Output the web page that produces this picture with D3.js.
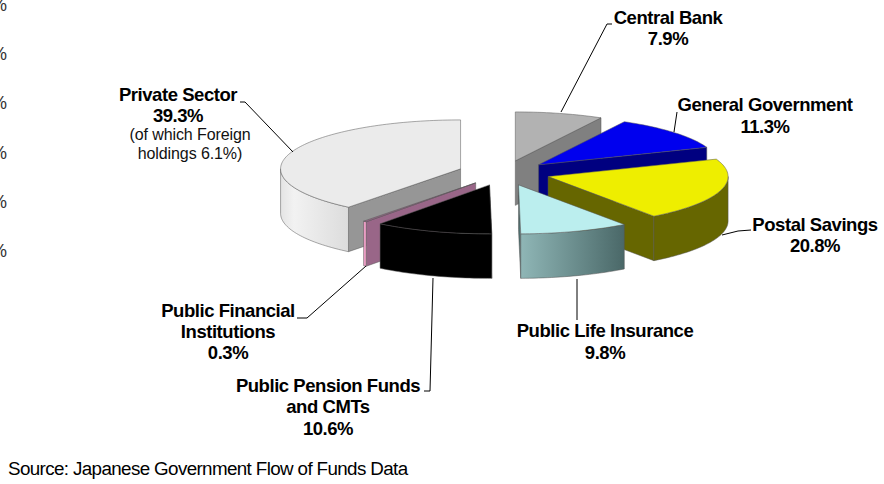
<!DOCTYPE html>
<html>
<head>
<meta charset="utf-8">
<script src="https://cdn.jsdelivr.net/npm/d3@7"></script>
<style>
	body { margin: 0; background: #fff; }
	text { font-family: "Liberation Sans", Arial, sans-serif; fill: #000; }
	.lab { font-weight: bold; font-size: 18.5px; letter-spacing: -0.45px; text-anchor: middle; }
	.sub { font-size: 16px; letter-spacing: -0.1px; text-anchor: middle; fill: #111; }
</style>
</head>
<body>
<div id="figure-div"></div>
<script>
// pie data, clockwise from 12 o'clock
var names = ["Central Bank", "General Government", "Postal Savings", "Public Life Insurance",
	"Public Pension Funds and CMTs", "Public Financial Institutions", "Private Sector"];
var shares = [7.9, 11.3, 20.8, 9.8, 10.6, 0.3, 39.3];
var topColors = ["#b2b2b2", "#0000ee", "#eeee00", "#bbeeee", "#000000", "#996688", "#ebebeb"];
var wallColors = ["#808080", "#000080", "#666600", "#4f7070", "#000000", "#996688", "#969696"];
var clippedTicks = ["%", "%", "%", "%", "%", "%"];

var w = 884;
var h = 484;
var cx = 504;
var cy = 173;
var R = 180;
var tilt = 0.272;   // ellipse ratio
var depth = 44.5;
var explode = 46;

var svg = d3.select("#figure-div").append("svg")
	.attr("width", w)
	.attr("height", h)
	.style("display", "block");

var defs = svg.append("defs");
function hGrad(id, stops) {
	var g = defs.append("linearGradient").attr("id", id);
	stops.forEach(function(s) {
		g.append("stop").attr("offset", s[0]).attr("stop-color", s[1]);
	});
}
hGrad("privGrad", [[0, "#e4e4e4"], [0.2, "#f2f2f2"], [1, "#dcdcdc"]]);
hGrad("lifeGrad", [[0, "#8fb6b6"], [1, "#4a6868"]]);

var slices = d3.pie().sort(null).value(function(d) { return d; })(shares);

function mid(s) { return (s.startAngle + s.endAngle) / 2; }
function apex(s) {
	return [cx + explode * Math.sin(mid(s)), cy - explode * tilt * Math.cos(mid(s))];
}
function rim(s, a, dz) {
	var c = apex(s);
	return [c[0] + R * Math.sin(a), c[1] - R * tilt * Math.cos(a) + (dz || 0)];
}
function arcPts(s, a0, a1, dz) {
	var n = Math.max(2, Math.ceil((a1 - a0) * 40));
	return d3.range(n + 1).map(function(i) { return rim(s, a0 + (a1 - a0) * i / n, dz); });
}
var line = d3.line();

function topFace(s) {
	return line([apex(s)].concat(arcPts(s, s.startAngle, s.endAngle))) + "Z";
}
function wall(s, a) {
	var c = apex(s), e = rim(s, a);
	return line([c, e, [e[0], e[1] + depth], [c[0], c[1] + depth]]) + "Z";
}
function outer(s) {
	var a0 = Math.max(s.startAngle, Math.PI / 2), a1 = Math.min(s.endAngle, 1.5 * Math.PI);
	if (a1 <= a0) return null;
	return line(arcPts(s, a0, a1).concat(arcPts(s, a0, a1, depth).reverse())) + "Z";
}

// which radial wall faces the viewer, and the fill of the curved rim
var wallAt = [
	function(s) { return s.endAngle; }, function(s) { return s.endAngle; },
	function(s) { return s.endAngle; }, function(s) { return s.endAngle; },
	function(s) { return s.startAngle; }, function(s) { return s.startAngle; },
	function(s) { return s.startAngle; }];
var rimFill = [null, null, "#666600", "url(#lifeGrad)", "#000000", "#f0a0c8", "url(#privGrad)"];

// back to front
var order = [6, 0, 1, 5, 2, 4, 3];
var stroke = "#555";
order.forEach(function(i) {
	var s = slices[i];
	var g = svg.append("g").attr("class", "slice");
	g.append("path").attr("d", wall(s, wallAt[i](s)))
		.attr("fill", wallColors[i]).attr("stroke", stroke).attr("stroke-width", 0.5);
	var o = outer(s);
	if (o) g.append("path").attr("d", o)
		.attr("fill", rimFill[i]).attr("stroke", stroke).attr("stroke-width", 0.5);
	g.append("path").attr("d", topFace(s))
		.attr("fill", topColors[i]).attr("stroke", stroke).attr("stroke-width", 0.5);
});

// leader lines
var leaders = [
	[[561, 112], [607, 24], [612, 24]],
	[[674, 132], [677, 112]],
	[[722, 235], [738, 231], [751, 230]],
	[[577, 279], [577, 320]],
	[[433, 278], [430, 391], [424, 391]],
	[[366, 266], [307, 318], [297, 318]],
	[[293, 152], [245, 102], [240, 102]]
];
svg.selectAll("path.leader").data(leaders).enter().append("path")
	.attr("class", "leader")
	.attr("d", function(d) { return line(d); })
	.attr("fill", "none")
	.attr("stroke", "#000")
	.attr("stroke-width", 1);

// labels
var labelLines = [
	{ x: 668, y: 24, cls: "lab", t: "Central Bank" },
	{ x: 668, y: 45, cls: "lab", t: "7.9%" },
	{ x: 765, y: 111, cls: "lab", t: "General Government" },
	{ x: 765, y: 133, cls: "lab", t: "11.3%" },
	{ x: 815, y: 231, cls: "lab", t: "Postal Savings" },
	{ x: 815, y: 252, cls: "lab", t: "20.8%" },
	{ x: 605, y: 337, cls: "lab", t: "Public Life Insurance" },
	{ x: 605, y: 359, cls: "lab", t: "9.8%" },
	{ x: 328, y: 392, cls: "lab", t: "Public Pension Funds" },
	{ x: 328, y: 413, cls: "lab", t: "and CMTs" },
	{ x: 328, y: 435, cls: "lab", t: "10.6%" },
	{ x: 228, y: 317, cls: "lab", t: "Public Financial" },
	{ x: 228, y: 338, cls: "lab", t: "Institutions" },
	{ x: 228, y: 359, cls: "lab", t: "0.3%" },
	{ x: 178, y: 101, cls: "lab", t: "Private Sector" },
	{ x: 178, y: 122, cls: "lab", t: "39.3%" },
	{ x: 190, y: 140, cls: "sub", t: "(of which Foreign" },
	{ x: 190, y: 159, cls: "sub", t: "holdings 6.1%)" }
];
svg.selectAll("text.l").data(labelLines).enter().append("text")
	.attr("class", function(d) { return d.cls; })
	.attr("x", function(d) { return d.x; })
	.attr("y", function(d) { return d.y; })
	.text(function(d) { return d.t; });

// leftover axis labels cut off at the page edge, same as the source image
var tickScale = d3.scalePoint().domain(d3.range(clippedTicks.length)).range([11, 257]);
svg.selectAll("text.tick").data(clippedTicks).enter().append("text")
	.attr("class", "tick")
	.attr("x", -9)
	.attr("y", function(d, i) { return tickScale(i); })
	.style("font-size", "18px")
	.style("fill", "#333")
	.text(function(d) { return d; });

svg.append("text")
	.attr("x", 8)
	.attr("y", 475)
	.style("font-size", "18.8px")
	.style("letter-spacing", "-0.62px")
	.text("Source: Japanese Government Flow of Funds Data");
</script>
</body>
</html>
